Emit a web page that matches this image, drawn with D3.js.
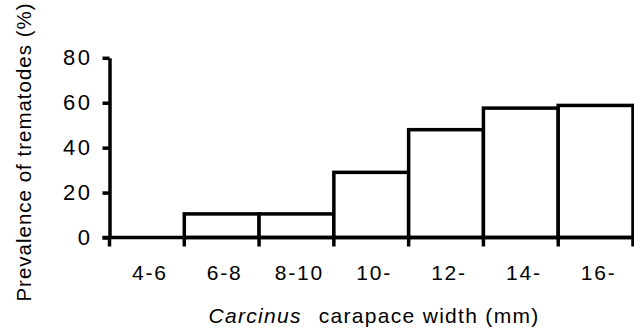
<!DOCTYPE html>
<html><head><meta charset="utf-8">
<script src="https://cdn.jsdelivr.net/npm/d3@7"></script>
<style>
html,body{margin:0;padding:0;background:#fff;}
svg{display:block;}
text{font-family:"Liberation Sans",Arial,Helvetica,sans-serif;fill:#000;}
</style></head>
<body>
<svg id="chart" width="634" height="334"></svg>
<script>
const categories = ["4-6","6-8","8-10","10-","12-","14-","16-"];
const prevalence = [0, 10.5, 10.5, 29, 48, 57.6, 58.8];
const yTicks = [0, 20, 40, 60, 80];
const yLabel = "Prevalence of trematodes (%)";
const xLabelItalic = "Carcinus";
const xLabelRest = "carapace width (mm)";

(function(){
const svg = d3.select("#chart");
const mLeft = 109.5, mRight = 633, mTop = 57.8, mBottom = 237.5;
const sw = 3.5;

const x = d3.scaleBand().domain(categories).range([mLeft, mRight]).padding(0);
const y = d3.scaleLinear().domain([0, 80]).range([mBottom, mTop]);

// bars
svg.append("g").selectAll("rect")
  .data(categories.map((c, i) => ({c, v: prevalence[i]})).filter(d => d.v > 0))
  .join("rect")
  .attr("x", d => x(d.c))
  .attr("y", d => y(d.v))
  .attr("width", x.bandwidth())
  .attr("height", d => y(0) - y(d.v))
  .attr("fill", "#fff")
  .attr("stroke", "#000")
  .attr("stroke-width", sw);

// y axis
const yAxis = svg.append("g").attr("transform", `translate(${mLeft},0)`)
  .call(d3.axisLeft(y).tickValues(yTicks).tickSize(7).tickSizeOuter(0).tickPadding(10));
yAxis.select(".domain").attr("stroke-width", sw);
yAxis.selectAll(".tick line").attr("stroke-width", sw);
yAxis.selectAll(".tick text").attr("font-size", 22).style("letter-spacing", "2.5px").attr("fill", "#000");

// x axis: edge ticks
const edges = d3.range(categories.length + 1).map(i => i === categories.length ? mRight : x(categories[i]));
const xAxis = svg.append("g").attr("transform", `translate(0,${mBottom})`);
xAxis.append("line").attr("x1", mLeft - 7).attr("x2", mRight).attr("y1", 0).attr("y2", 0)
  .attr("stroke", "#000").attr("stroke-width", sw);
xAxis.selectAll("line.tk").data(edges).join("line").attr("class", "tk")
  .attr("x1", d => d).attr("x2", d => d).attr("y1", 0).attr("y2", 9)
  .attr("stroke", "#000").attr("stroke-width", sw);
xAxis.selectAll("text").data(categories).join("text")
  .attr("x", d => x(d) + x.bandwidth() / 2 + 3)
  .attr("y", 42)
  .attr("text-anchor", "middle")
  .attr("font-size", 21)
  .style("letter-spacing", "1.8px")
  .text(d => d);

// y label
svg.append("text")
  .attr("transform", "translate(31,152) rotate(-90)")
  .attr("text-anchor", "middle")
  .attr("font-size", 20.5)
  .style("letter-spacing", "1px")
  .text(yLabel);

// x label
const xl = svg.append("text")
  .attr("x", 374).attr("y", 323)
  .attr("text-anchor", "middle")
  .attr("font-size", 21)
  .style("letter-spacing", "1.3px");
xl.append("tspan").attr("font-style", "italic").text(xLabelItalic);
xl.append("tspan").attr("dx", 17).text(xLabelRest);
})();
</script>
</body></html>
